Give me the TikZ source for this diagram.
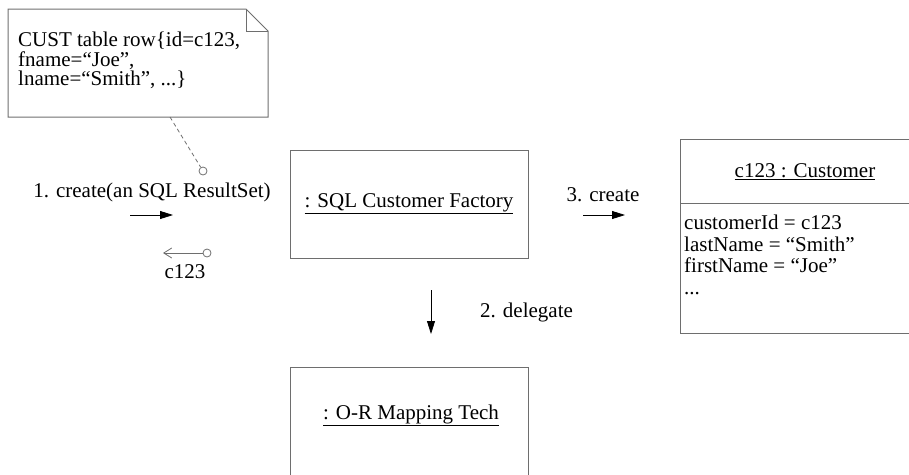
\documentclass[tikz,border=0pt]{standalone}
\usepackage{fontspec}
\setmainfont{Liberation Serif}
\usetikzlibrary{arrows.meta,positioning}
\definecolor{linegrey}{RGB}{110,110,110}
\tikzset{
  objbox/.style={draw=linegrey,line width=1pt,inner sep=0pt},
  txt/.style={inner sep=0pt,align=left},
  msg/.style={-{Triangle[length=13pt,width=8pt]},line width=0.8pt},
  ret/.style={-{Straight Barb[length=8pt,width=10pt]},draw=linegrey,line width=0.8pt},
  pin/.style={circle,draw=linegrey,line width=0.8pt,minimum size=8pt,inner sep=0pt},
  noteline/.style={draw=linegrey,dash pattern=on 4pt off 3pt,line width=0.8pt},
}

\begin{document}
\begin{tikzpicture}[x=1pt,y=-1pt,font=\fontsize{21}{20}\selectfont]
  \useasboundingbox (0,0) rectangle (909,474);

  % note with folded corner
  \draw[objbox] (8,9) -- (246,9) -- (268,31) -- (268,117) -- (8,117) -- cycle;
  \draw[objbox] (246,9) -- (246,31) -- (268,31);
  \node[txt,anchor=north west,font=\fontsize{21}{19.5}\selectfont] (note) at (18,32)
    {CUST table row\char"7B id=c123,\\fname=“Joe”,\\lname=“Smith”, ...\char"7D};
  \coordinate (notefoot) at (170,117);
  \node[pin] (attach) at (203,171) {};
  \draw[noteline] (notefoot) -- (attach);

  % 1. create, and its return value
  \node[txt] (m1) at (152,192) {1. create(an SQL ResultSet)};
  \coordinate (m1a) at (130,215);
  \coordinate (m1b) at (173,215);
  \draw[msg] (m1a) -- (m1b);
  \node[pin] (retpin) at (207,253) {};
  \coordinate (rettip) at (163,253);
  \draw[ret] (retpin) -- (rettip);
  \node[txt] (retlbl) at (185,272) {c123};

  % objects
  \node[objbox,minimum width=238,minimum height=108] (factory) at (409,204)
    {\underline{: SQL Customer Factory}};
  \node[objbox,minimum width=238,minimum height=120,anchor=north] (mapper) at (409,367) {};
  \node[txt] (mapperlbl) at (411,415) {\underline{: O-R Mapping Tech}};

  % 2. delegate
  \coordinate (d1) at (431,290);
  \coordinate (d2) at (431,334);
  \draw[msg] (d1) -- (d2);
  \node[txt,anchor=west] (m2) at (480,312) {2. delegate};

  % 3. create
  \node[txt] (m3) at (603,195) {3. create};
  \coordinate (m3a) at (583,215);
  \coordinate (m3b) at (625,215);
  \draw[msg] (m3a) -- (m3b);

  % customer object, runs off the right edge
  \node[objbox,minimum width=235,minimum height=194,anchor=north west] (cust) at (680,139) {};
  \draw[objbox] (cust.west |- 0,203) -- (cust.east |- 0,203);
  \node[txt] (custname) at (805,172) {\underline{c123 : Customer}};
  \node[txt,anchor=north west,font=\fontsize{21}{21.5}\selectfont] (custattr) at (684,215)
    {customerId = c123\\lastName = “Smith”\\firstName = “Joe”\\...};
\end{tikzpicture}
\end{document}
